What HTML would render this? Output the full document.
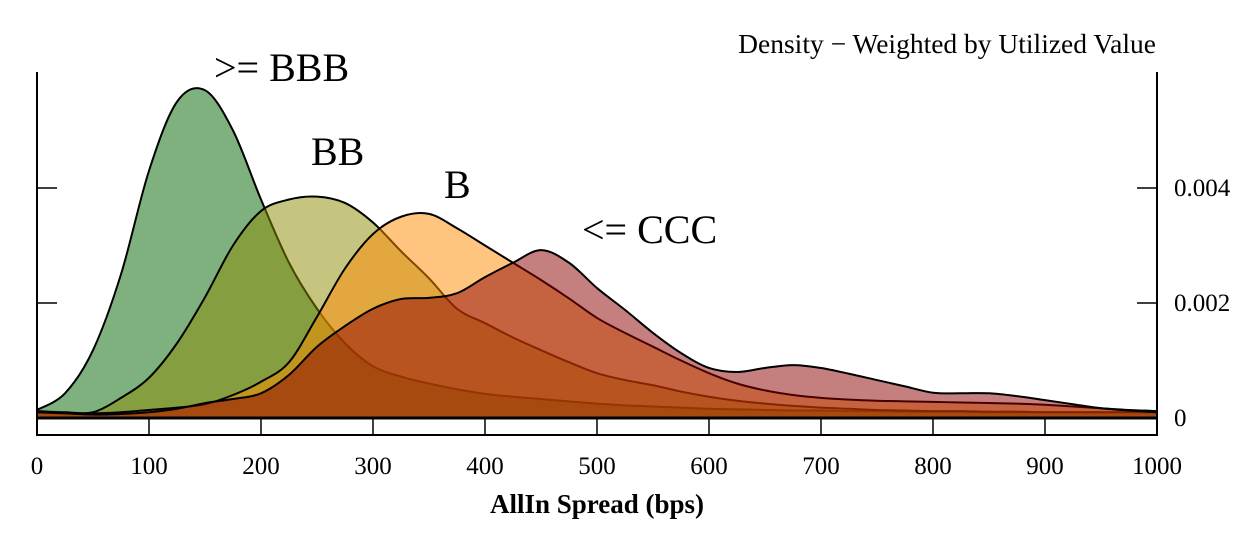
<!DOCTYPE html>
<html><head><meta charset="utf-8"><style>
body{margin:0;background:#fff;width:1240px;height:539px;overflow:hidden}
svg text{font-family:"Liberation Serif",serif;fill:#000}
</style></head><body>
<svg id="chart" width="1240" height="539" viewBox="0 0 1240 539" xmlns="http://www.w3.org/2000/svg">
<g id="series"></g>
<g id="axes" stroke="#000" fill="none">
<line x1="37" y1="72" x2="37" y2="436" stroke-width="2"/>
<line x1="1157" y1="72" x2="1157" y2="436" stroke-width="2"/>
<line x1="36" y1="435" x2="1158" y2="435" stroke-width="2"/>
<line x1="37" y1="418" x2="1157" y2="418" stroke-width="3"/>
</g>
<g id="ticks"></g>
<text x="1156" y="53" font-size="27.5" text-anchor="end">Density − Weighted by Utilized Value</text>
<text x="597" y="513" font-size="27" font-weight="bold" text-anchor="middle">AllIn Spread (bps)</text>
<text x="214" y="81" font-size="40">&gt;= BBB</text>
<text x="311" y="165" font-size="40">BB</text>
<text x="444" y="198" font-size="40">B</text>
<text x="582" y="243" font-size="40">&lt;= CCC</text>
</svg>
<script>
const xs = [0,25,50,75,100,125,150,175,200,225,250,275,300,325,350,375,400,425,450,475,500,525,550,575,600,625,650,675,700,725,750,775,800,825,850,875,900,925,950,975,1000];
const bbb = [0.00014,0.00043,0.00118,0.0025,0.0043,0.0055,0.0057,0.005,0.0038,0.0027,0.0019,0.0013,0.0009,0.00072,0.0006,0.0005,0.00042,0.00037,0.00033,0.00029,0.00025,0.00022,0.0002,0.00018,0.00016,0.00015,0.00014,0.00013,0.00013,0.00012,0.00012,0.00011,0.00011,0.00011,0.0001,0.0001,0.0001,0.0001,0.0001,0.0001,0.0001];
const bb = [0.00012,0.0001,0.0001,0.00035,0.0007,0.0013,0.0021,0.003,0.0036,0.0038,0.00385,0.00374,0.0034,0.0029,0.00243,0.0019,0.00165,0.0014,0.00118,0.00097,0.00078,0.00066,0.00057,0.00046,0.00037,0.0003,0.00025,0.00021,0.00018,0.00016,0.00014,0.00013,0.00012,0.00012,0.00011,0.00011,0.0001,0.0001,0.0001,0.0001,0.0001];
const bSer = [0.0001,0.00009,0.00008,0.0001,0.00014,0.00018,0.00024,0.0004,0.00063,0.00097,0.00176,0.0026,0.0032,0.0035,0.00355,0.0033,0.003,0.0027,0.0024,0.00208,0.00174,0.00148,0.00124,0.001,0.00078,0.0006,0.00048,0.0004,0.00035,0.00032,0.0003,0.00029,0.00028,0.00027,0.00026,0.00025,0.00023,0.0002,0.00017,0.00014,0.00012];
const ccc = [0.0001,0.00008,0.00006,0.00007,0.0001,0.00016,0.00026,0.00033,0.00043,0.00075,0.00124,0.0016,0.0019,0.00207,0.00209,0.00217,0.00245,0.0027,0.00292,0.0027,0.00226,0.00188,0.00148,0.00113,0.00087,0.0008,0.00087,0.00092,0.00087,0.00077,0.00066,0.00055,0.00044,0.00043,0.00043,0.00038,0.00031,0.00024,0.00017,0.00013,0.0001];
const xTicks = [0,100,200,300,400,500,600,700,800,900,1000];
const yTicks = [0,0.002,0.004];
const yTickLabels = ["0","0.002","0.004"];

const X = v => 37 + v*1.12;
const Y = v => 418 - v*57500;
const NS = "http://www.w3.org/2000/svg";

function pathFor(vals){
  const p = xs.map((x,i)=>[X(x),Y(vals[i])]);
  let d = "M"+X(xs[0])+","+Y(0)+" L"+p[0][0]+","+p[0][1];
  for(let i=0;i<p.length-1;i++){
    const p0=p[Math.max(0,i-1)],p1=p[i],p2=p[i+1],p3=p[Math.min(p.length-1,i+2)];
    const c1=[p1[0]+(p2[0]-p0[0])/6,p1[1]+(p2[1]-p0[1])/6];
    const c2=[p2[0]-(p3[0]-p1[0])/6,p2[1]-(p3[1]-p1[1])/6];
    d+=" C"+c1[0]+","+c1[1]+" "+c2[0]+","+c2[1]+" "+p2[0]+","+p2[1];
  }
  d+=" L"+X(xs[xs.length-1])+","+Y(0)+" Z";
  return d;
}
const sg = document.getElementById("series");
[[bbb,"#006400","series-bbb"],[bb,"#8b8b00","series-bb"],[bSer,"#ff8c00","series-b"],[ccc,"#8b0000","series-ccc"]].forEach(s=>{
  const el = document.createElementNS(NS,"path");
  el.setAttribute("d",pathFor(s[0]));
  el.setAttribute("fill",s[1]);
  el.setAttribute("fill-opacity","0.5");
  el.setAttribute("stroke","#000");
  el.setAttribute("stroke-width","2");
  
  
  sg.appendChild(el);
});
const tg = document.getElementById("ticks");
xTicks.forEach(t=>{
  const l=document.createElementNS(NS,"line");
  l.setAttribute("x1",X(t));l.setAttribute("x2",X(t));l.setAttribute("y1",418);l.setAttribute("y2",435);
  l.setAttribute("stroke","#000");l.setAttribute("stroke-width","1.5");
  
  
  tg.appendChild(l);
  const tx=document.createElementNS(NS,"text");
  tx.setAttribute("x",X(t));tx.setAttribute("y",474);tx.setAttribute("font-size","25");tx.setAttribute("text-anchor","middle");
  tx.textContent=t;
  
  
  tg.appendChild(tx);
});
yTicks.forEach((t,i)=>{
  if(t>0){
    [[37,57],[1137,1157]].forEach(xx=>{
      const l=document.createElementNS(NS,"line");
      l.setAttribute("x1",xx[0]);l.setAttribute("x2",xx[1]);l.setAttribute("y1",Y(t));l.setAttribute("y2",Y(t));
      l.setAttribute("stroke","#000");l.setAttribute("stroke-width","1.5");
      
      
      tg.appendChild(l);
    });
  }
  const tx=document.createElementNS(NS,"text");
  tx.setAttribute("x",1174);tx.setAttribute("y",Y(t)+8);tx.setAttribute("font-size","25");
  tx.textContent=yTickLabels[i];
  
  
  tg.appendChild(tx);
});
</script>
</body></html>
